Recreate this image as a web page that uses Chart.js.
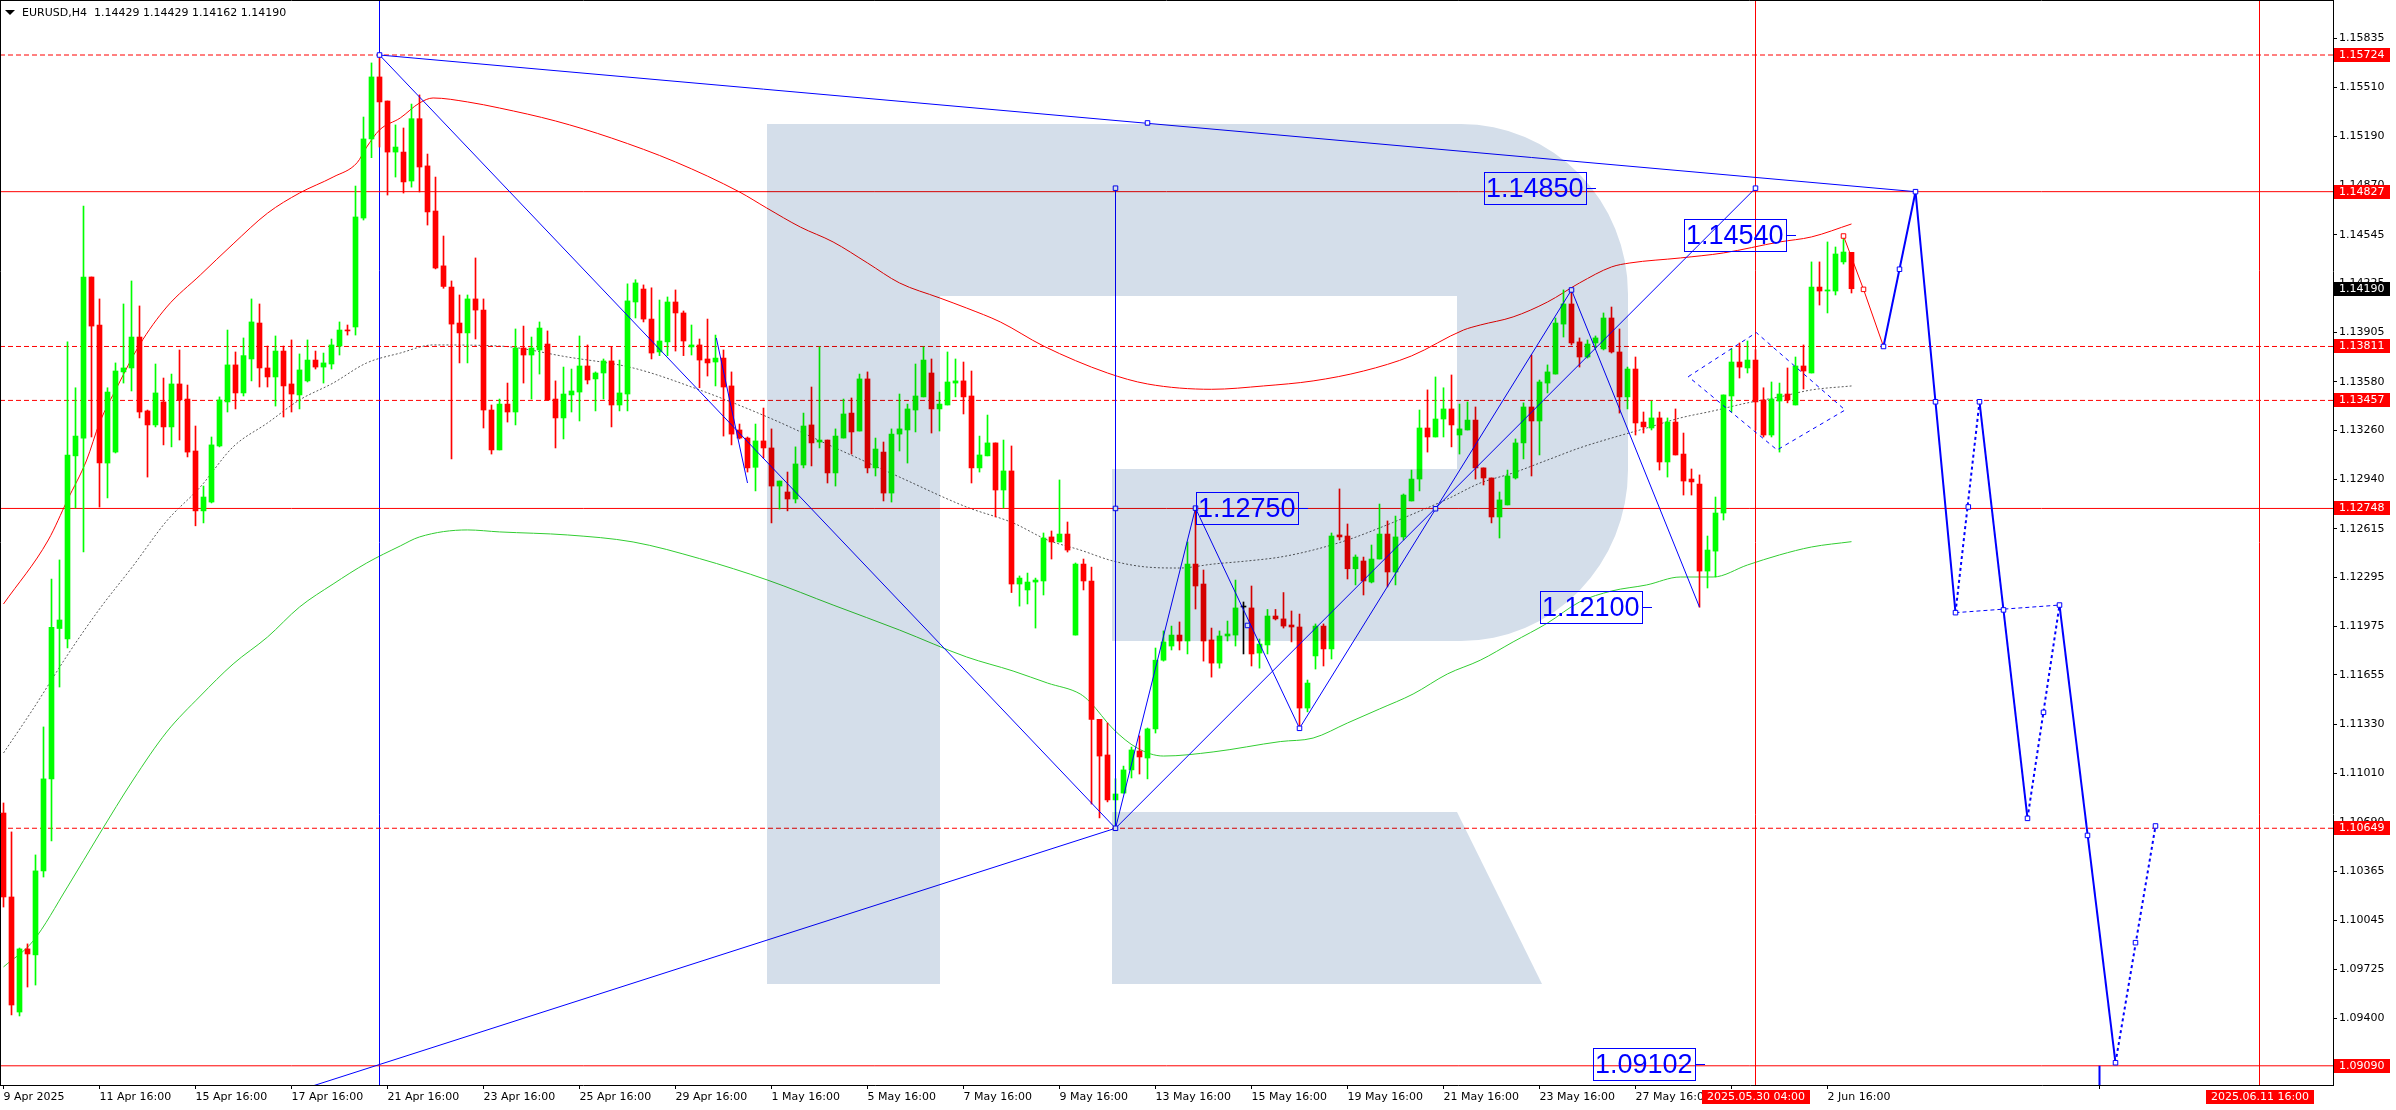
<!DOCTYPE html>
<html><head><meta charset="utf-8">
<script src="https://cdn.jsdelivr.net/npm/chart.js@4.4.1/dist/chart.umd.min.js"></script>
<style>html,body{margin:0;padding:0;background:#fff;overflow:hidden}canvas{display:block}</style>
</head><body>
<canvas id="c" width="2396" height="1110" style="width:2396px;height:1110px"></canvas>
<script>
// ---------------- DATA ----------------
const chartTitle = 'EURUSD,H4  1.14429 1.14429 1.14162 1.14190';

const openP = [
1.10749,1.10198,1.09443,1.09857,1.09818,1.10369,1.10973,1.11960,1.11891,1.13093,
1.13210,1.14267,1.13952,1.13046,1.13118,1.13644,1.13670,1.13873,1.13388,1.13296,
1.13447,1.13283,1.13565,1.13466,1.13125,1.12732,1.12790,1.13158,1.13447,1.13690,
1.13506,1.13729,1.13965,1.13670,1.13611,1.13781,1.13565,1.13493,1.13585,1.13722,
1.13676,1.13696,1.13814,1.13919,1.13939,1.14654,1.15173,1.15580,1.15422,1.15087,
1.15087,1.14897,1.15306,1.14996,1.14700,1.14340,1.14201,1.13965,1.13900,1.14123,
1.14050,1.13394,1.13132,1.13433,1.13381,1.13801,1.13755,1.13788,1.13827,1.13466,
1.13342,1.13493,1.13512,1.13683,1.13598,1.13637,1.13716,1.13427,1.13499,1.14103,
1.14188,1.13991,1.13775,1.13841,1.14103,1.14031,1.13808,1.13821,1.13729,1.13709,
1.13735,1.13552,1.13263,1.13210,1.13018,1.13191,1.13145,1.12895,1.12856,1.12810,
1.13033,1.13296,1.13184,1.13197,1.12981,1.13210,1.13374,1.13256,1.13598,1.13014,
1.13118,1.12849,1.13236,1.13263,1.13394,1.13480,1.13637,1.13401,1.13427,1.13571,
1.13585,1.13486,1.13014,1.13093,1.13178,1.12869,1.12994,1.12252,1.12213,1.12265,
1.12272,1.12561,1.12528,1.12580,1.11917,1.12383,1.12272,1.11364,1.11130,1.10835,
1.10880,1.11032,1.11156,1.11110,1.11301,1.11752,1.11845,1.11917,1.11878,1.12383,
1.12252,1.11885,1.11733,1.11911,1.11917,1.12101,1.12095,1.11799,1.11852,1.12042,
1.12023,1.11983,1.11970,1.11438,1.11780,1.11976,1.11826,1.12574,1.12567,1.12352,
1.12403,1.12265,1.12416,1.12580,1.12331,1.12561,1.12797,1.12941,1.13276,1.13217,
1.13335,1.13401,1.13230,1.13263,1.13328,1.13014,1.12948,1.12692,1.12771,1.12948,
1.13178,1.13414,1.13322,1.13571,1.13630,1.13958,1.14090,1.13841,1.13742,1.13834,
1.13795,1.13998,1.13775,1.13480,1.13663,1.13315,1.13276,1.13342,1.13053,1.13315,
1.13105,1.12941,1.12908,1.12337,1.12468,1.12718,1.13486,1.13709,1.13670,1.13722,
1.13460,1.13230,1.13453,1.13499,1.13427,1.13683,1.13637,1.14201,1.14175,1.14175,
1.14366,1.14429];

const highP = [
1.10815,1.10625,1.09863,1.09890,1.10474,1.11314,1.12285,1.12410,1.13841,1.13540,
1.14733,1.14267,1.14123,1.13540,1.13703,1.14090,1.14241,1.14077,1.13394,1.13696,
1.13604,1.13630,1.13788,1.13558,1.13289,1.12895,1.13217,1.13480,1.13919,1.13775,
1.13867,1.14123,1.14090,1.13814,1.13880,1.13814,1.13854,1.13762,1.13854,1.13781,
1.13768,1.13860,1.13972,1.13952,1.14864,1.15317,1.15672,1.15724,1.15422,1.15265,
1.15245,1.15402,1.15462,1.15074,1.14923,1.14536,1.14241,1.14149,1.14149,1.14392,
1.14123,1.13427,1.13466,1.13571,1.13926,1.13945,1.13873,1.13972,1.13913,1.13585,
1.13676,1.13663,1.13880,1.13821,1.13644,1.13729,1.13808,1.13722,1.14222,1.14249,
1.14215,1.14196,1.14116,1.14136,1.14182,1.14044,1.13952,1.13860,1.13991,1.13886,
1.13788,1.13644,1.13302,1.13217,1.13302,1.13407,1.13270,1.12928,1.12987,1.13152,
1.13374,1.13545,1.13808,1.13197,1.13270,1.13466,1.13473,1.13630,1.13644,1.13210,
1.13184,1.13270,1.13499,1.13433,1.13696,1.13808,1.13729,1.13512,1.13775,1.13729,
1.13709,1.13650,1.13223,1.13361,1.13178,1.13197,1.13158,1.12305,1.12324,1.12291,
1.12587,1.12600,1.12935,1.12659,1.12390,1.12416,1.12363,1.11364,1.11340,1.10974,
1.11057,1.11182,1.11255,1.11307,1.11832,1.11944,1.11976,1.12003,1.12528,1.12750,
1.12344,1.11963,1.11944,1.12009,1.12278,1.12134,1.12239,1.11891,1.12085,1.12085,
1.12196,1.12075,1.12055,1.11622,1.11990,1.11990,1.12587,1.12876,1.12646,1.12443,
1.12429,1.12508,1.12777,1.12666,1.12698,1.12843,1.13000,1.13394,1.13526,1.13611,
1.13540,1.13624,1.13433,1.13447,1.13414,1.13014,1.12948,1.12856,1.13000,1.13204,
1.13441,1.13755,1.13591,1.13690,1.13998,1.14182,1.14182,1.13867,1.13854,1.13880,
1.14031,1.14070,1.13926,1.13676,1.13742,1.13381,1.13453,1.13381,1.13342,1.13401,
1.13243,1.13007,1.12968,1.12567,1.12823,1.13493,1.13795,1.13834,1.13847,1.13790,
1.13540,1.13578,1.13571,1.13670,1.13742,1.13821,1.14366,1.14366,1.14497,1.14464,
1.14536,1.14429];

const lowP = [
1.10132,1.09424,1.09417,1.09607,1.09620,1.10329,1.10566,1.11576,1.11832,1.12751,
1.12462,1.13217,1.12757,1.12817,1.13112,1.13571,1.13519,1.13342,1.12954,1.13283,
1.13165,1.13152,1.13197,1.13086,1.12634,1.12653,1.12784,1.13152,1.13381,1.13401,
1.13486,1.13585,1.13545,1.13545,1.13420,1.13348,1.13381,1.13401,1.13578,1.13663,
1.13571,1.13663,1.13755,1.13886,1.13886,1.14641,1.15050,1.15120,1.14805,1.14923,
1.14818,1.14857,1.14825,1.14608,1.14320,1.14193,1.13073,1.13703,1.13703,1.13860,
1.13276,1.13105,1.13132,1.13315,1.13296,1.13571,1.13466,1.13630,1.13460,1.13145,
1.13204,1.13381,1.13322,1.13565,1.13388,1.13466,1.13283,1.13388,1.13388,1.13998,
1.13972,1.13729,1.13751,1.13751,1.13781,1.13751,1.13755,1.13540,1.13617,1.13552,
1.13223,1.13165,1.13204,1.12987,1.12863,1.13079,1.12653,1.12744,1.12732,1.12784,
1.13014,1.13027,1.13145,1.12915,1.12895,1.13210,1.13105,1.13256,1.12981,1.12961,
1.12797,1.12790,1.13125,1.13046,1.13250,1.13480,1.13243,1.13256,1.13427,1.13480,
1.13368,1.12915,1.12987,1.13093,1.12692,1.12751,1.12196,1.12107,1.12121,1.11963,
1.12180,1.12416,1.12528,1.12462,1.11917,1.12213,1.10808,1.10717,1.10822,1.10649,
1.10880,1.10979,1.11005,1.10973,1.11274,1.11746,1.11819,1.11819,1.11793,1.12088,
1.11746,1.11641,1.11700,1.11878,1.11845,1.11793,1.11714,1.11700,1.11793,1.12016,
1.11963,1.11872,1.11305,1.11413,1.11694,1.11714,1.11760,1.12541,1.12285,1.12246,
1.12180,1.12259,1.12416,1.12233,1.12246,1.12541,1.12797,1.12863,1.13118,1.13217,
1.13217,1.13152,1.13105,1.13263,1.12941,1.12902,1.12653,1.12554,1.12771,1.12941,
1.13073,1.12961,1.13099,1.13506,1.13630,1.13873,1.13821,1.13676,1.13735,1.13801,
1.13788,1.13768,1.13374,1.13401,1.13230,1.13243,1.13263,1.13000,1.12954,1.13099,
1.12836,1.12836,1.12100,1.12226,1.12298,1.12672,1.13381,1.13604,1.13637,1.13263,
1.13217,1.13217,1.13118,1.13441,1.13427,1.13532,1.13637,1.14083,1.14031,1.14149,
1.14352,1.14162];

const closeP = [
1.10198,1.09489,1.09857,1.09824,1.10369,1.10973,1.11967,1.12016,1.13099,1.13223,
1.14267,1.13945,1.13046,1.13512,1.13650,1.13670,1.13873,1.13381,1.13296,1.13506,
1.13283,1.13565,1.13460,1.13118,1.12732,1.12823,1.13165,1.13460,1.13690,1.13506,
1.13751,1.13972,1.13670,1.13611,1.13781,1.13552,1.13499,1.13657,1.13722,1.13676,
1.13703,1.13821,1.13919,1.13913,1.14661,1.15173,1.15580,1.15416,1.15087,1.15120,
1.14891,1.15306,1.14989,1.14694,1.14326,1.14205,1.13958,1.13900,1.14123,1.14050,
1.13394,1.13132,1.13433,1.13381,1.13801,1.13755,1.13801,1.13932,1.13460,1.13342,
1.13499,1.13519,1.13683,1.13591,1.13637,1.13716,1.13427,1.13506,1.14110,1.14228,
1.13991,1.13768,1.13847,1.14103,1.14031,1.13847,1.13821,1.13722,1.13703,1.13735,
1.13545,1.13236,1.13210,1.13014,1.13191,1.13145,1.12895,1.12928,1.12810,1.13040,
1.13289,1.13178,1.13197,1.12981,1.13223,1.13368,1.13250,1.13598,1.13014,1.13138,
1.12849,1.13236,1.13270,1.13401,1.13486,1.13722,1.13401,1.13433,1.13578,1.13585,
1.13480,1.13014,1.13099,1.13178,1.12869,1.12994,1.12252,1.12291,1.12265,1.12278,
1.12554,1.12528,1.12580,1.12475,1.12383,1.12272,1.11364,1.11123,1.10835,1.10874,
1.11032,1.11163,1.11117,1.11301,1.11752,1.11872,1.11917,1.11878,1.12383,1.12239,
1.11878,1.11733,1.11911,1.11924,1.12095,1.12101,1.11793,1.11858,1.12042,1.12023,
1.11976,1.11970,1.11438,1.11602,1.11976,1.11826,1.12567,1.12561,1.12352,1.12429,
1.12272,1.12416,1.12580,1.12331,1.12561,1.12836,1.12941,1.13276,1.13217,1.13335,
1.13401,1.13296,1.13270,1.13328,1.13014,1.12948,1.12692,1.12804,1.12961,1.13178,
1.13414,1.13322,1.13578,1.13644,1.13965,1.14090,1.13834,1.13742,1.13827,1.13867,
1.13998,1.13775,1.13480,1.13663,1.13309,1.13283,1.13342,1.13053,1.13315,1.13099,
1.12928,1.12922,1.12337,1.12475,1.12718,1.13493,1.13709,1.13676,1.13722,1.13447,
1.13230,1.13466,1.13499,1.13460,1.13683,1.13650,1.14201,1.14175,1.14182,1.14418,
1.14431,1.14190];

// moving averages (bar index, price)
const maRedIdx = [0,5.6,8,10.4,12,14.2,17,20.4,24.6,28.7,33,37,41.2,44.2,45.4,47,49.6,52,53.7,58,62,69,76,84,92,95.4,99.6,103.7,108,112,117,120.4,124.6,130,138,143,151,157.5,163.7,170,176,182.5,184.6,188.7,193,197,201,203.3,209.6,215,222,226,231];
const maRedVal = [1.12121,1.12541,1.12804,1.13066,1.13309,1.13545,1.13821,1.14070,1.14280,1.14484,1.14686,1.14818,1.14923,1.15017,1.15120,1.15232,1.15311,1.15409,1.15442,1.15416,1.15376,1.15291,1.15179,1.15022,1.14825,1.14720,1.14595,1.14497,1.14359,1.14228,1.14130,1.14063,1.13972,1.13814,1.13637,1.13565,1.13530,1.13552,1.13585,1.13650,1.13749,1.13919,1.13952,1.14005,1.14103,1.14228,1.14333,1.14359,1.14392,1.14425,1.14497,1.14530,1.14615];
const maGrayIdx = [0,3.7,8,12,16.2,20.4,24.6,28.7,33,37,41.2,45.4,49.6,53.7,62,70.5,78.7,87,95.5,103.7,112,120.4,126.2,130.5,134.6,138.7,143,147,151.2,155.4,159.6,163.7,168,172,176.2,180.5,184.6,188.7,193,197,201,205.4,209.6,213.7,218,222,226,231];
const maGrayVal = [1.11143,1.11432,1.11786,1.12088,1.12371,1.12666,1.12889,1.13152,1.13309,1.13460,1.13571,1.13703,1.13768,1.13821,1.13814,1.13742,1.13670,1.13526,1.13348,1.13152,1.12954,1.12757,1.12653,1.12541,1.12475,1.12403,1.12363,1.12357,1.12383,1.12403,1.12429,1.12475,1.12541,1.12620,1.12712,1.12810,1.12915,1.12981,1.13066,1.13145,1.13210,1.13276,1.13342,1.13388,1.13441,1.13480,1.13526,1.13552];
const maGreenIdx = [0,3.7,8,12,16.2,20.4,24.6,28.7,33,37,41.2,45.4,49.6,52,58,62,70.5,78.7,87,95.5,103.7,112,120.4,126.2,130.5,134.6,135.8,138.7,141.7,145,151.2,159.6,163.7,168,172,176.2,180.5,184.6,188.7,193,197,201,205.4,209.6,213.7,218,222,226,231];
const maGreenVal = [1.09739,1.09909,1.10264,1.10612,1.10966,1.11281,1.11517,1.11727,1.11904,1.12101,1.12252,1.12390,1.12502,1.12561,1.12607,1.12594,1.12574,1.12528,1.12419,1.12278,1.12114,1.11950,1.11773,1.11681,1.11602,1.11530,1.11478,1.11301,1.11176,1.11123,1.11150,1.11218,1.11241,1.11340,1.11432,1.11530,1.11662,1.11752,1.11872,1.11996,1.12134,1.12206,1.12246,1.12298,1.12298,1.12377,1.12443,1.12495,1.12530];

// horizontal levels
const levelsDashed = [1.15724, 1.13811, 1.13457, 1.10649];
const levelsSolid = [1.14827, 1.12748, 1.09090];
const currentPrice = 1.14190;

// vertical time markers
const timeMarkIdx = [219, 282];
const timeMarkText = ['2025.05.30 04:00', '2025.06.11 16:00'];
const highBarIdx = 47;

// axes
const xTickIdx = [0,12,24,36,48,60,72,84,96,108,120,132,144,156,168,180,192,204,216,228,262];
const xTickText = ['9 Apr 2025','11 Apr 16:00','15 Apr 16:00','17 Apr 16:00','21 Apr 16:00','23 Apr 16:00','25 Apr 16:00','29 Apr 16:00','1 May 16:00','5 May 16:00','7 May 16:00','9 May 16:00','13 May 16:00','15 May 16:00','19 May 16:00','21 May 16:00','23 May 16:00','27 May 16:00','29 May 16:00','2 Jun 16:00',''];
const yTickVals = [1.15835,1.15510,1.15190,1.14870,1.14545,1.14225,1.13905,1.13580,1.13260,1.12940,1.12615,1.12295,1.11975,1.11655,1.11330,1.11010,1.10690,1.10365,1.10045,1.09725,1.09400];

// analysis drawings (bar index, price)
const trendTop = [[47,1.15724],[239,1.14827]];
const trendDown = [[47,1.15724],[139,1.10649]];
const trendBase = [[30,1.08812],[139,1.10649]];
const trendShort = [[89.1,1.13867],[93,1.12915]];
const waveZigzag = [[139,1.10649],[149,1.12750],[162,1.11305],[196,1.14182],[212,1.12100]];
const waveChannel = [[139,1.10649],[219,1.14850]];
const targetLine = [[139,1.10649],[139,1.14850]];
const flagBox = [[210.6,1.13613],[219.1,1.13902],[230.2,1.13394],[221.7,1.13132],[210.6,1.13613]];
const fcRed = [[230,1.14536],[232.5,1.14186],[235,1.13811]];
const fcSolid = [
  [[235,1.13811],[239,1.14827]],
  [[239,1.14827],[244,1.12064]],
  [[247,1.13448],[253,1.10714]],
  [[257,1.12114],[264,1.09110]]];
const fcDotted = [
  [[244,1.12064],[247,1.13448]],
  [[253,1.10714],[257,1.12114]],
  [[264,1.09110],[269,1.10664]]];
const fcNeck = [[244,1.12064],[257,1.12114]];
const blueAnchors = [[47,1.15724],[143,1.15278],[139,1.14850],[139,1.12748],[139,1.10649],[149,1.12750],[155.5,1.11980],[162,1.11305],[179,1.12746],[196,1.14182],[219,1.14850],
  [235,1.13811],[237,1.14318],[239,1.14827],[241.5,1.13448],[244,1.12064],[245.6,1.12758],[247,1.13448],[250,1.12082],[253,1.10714],[255,1.11410],[257,1.12114],[260.5,1.10602],[264,1.09110],[266.5,1.09898],[269,1.10664]];
const redAnchors = [[230,1.14536],[232.5,1.14186]];
const bottomStub = [[262,1.09090],[262,1.0800]];
const priceTags = ['1.14850','1.14540','1.12750','1.12100','1.09102'];
const priceTagIdx = [199, 224, 163, 206, 212.7];

// ---------------- CHART ----------------
const X_MIN = -0.4375, X_MAX = 291.1875;
const Y_MIN = 1.08964, Y_MAX = 1.16085;
const GREEN = '#00ff00', RED = '#ff0000', BLUE = '#0000ff';
const FONT = "'DejaVu Sans'";
Chart.defaults.font.family = FONT;
Chart.defaults.font.size = 11;
Chart.defaults.color = '#000';

const pts = arr => arr.map(([x, y]) => ({x, y}));
const zipXY = (xs, ys) => xs.map((x, i) => ({x, y: ys[i]}));
const bars = openP.map((_, i) => i);
const candleColor = ctx => {
  const i = ctx.dataIndex, o = openP[i], c = closeP[i];
  return c > o ? GREEN : (c < o ? RED : '#000000');
};

function seg(data, color, width, dash, order) {
  return {type: 'line', data, borderColor: color, borderWidth: width, borderDash: dash || [],
    pointRadius: 0, fill: false, tension: 0, order, clip: 0, borderCapStyle: 'butt'};
}

const datasets = [];
// moving averages
datasets.push(Object.assign(seg(zipXY(maRedIdx, maRedVal), RED, 1, null, 50), {cubicInterpolationMode: 'monotone'}));
datasets.push(Object.assign(seg(zipXY(maGrayIdx, maGrayVal), '#5a5a5a', 1, [2, 2], 50), {cubicInterpolationMode: 'monotone'}));
datasets.push(Object.assign(seg(zipXY(maGreenIdx, maGreenVal), '#32cd32', 1, null, 50), {cubicInterpolationMode: 'monotone'}));
// levels
levelsDashed.forEach(p => datasets.push(seg([{x: X_MIN, y: p}, {x: X_MAX, y: p}], RED, 1, [5, 3], 40)));
levelsSolid.forEach(p => datasets.push(seg([{x: X_MIN, y: p}, {x: X_MAX, y: p}], RED, 1, null, 40)));
timeMarkIdx.forEach(j => datasets.push(seg([{x: j, y: Y_MIN - 0.01}, {x: j, y: Y_MAX + 0.01}], RED, 1, null, 40)));
datasets.push(seg([{x: highBarIdx, y: Y_MIN - 0.01}, {x: highBarIdx, y: Y_MAX + 0.01}], BLUE, 1, null, 40));
// candles
datasets.push({type: 'bar', data: bars.map(i => ({x: i, y: [lowP[i], highP[i]]})), backgroundColor: candleColor,
  borderWidth: 0, barThickness: 1, grouped: false, order: 30});
datasets.push({type: 'bar', data: bars.map(i => ({x: i, y: [openP[i], closeP[i]]})), backgroundColor: candleColor,
  borderWidth: 0, barThickness: 5, minBarLength: 1, grouped: false, order: 29});
// analysis objects
[trendTop, trendDown, trendBase, trendShort, waveZigzag, waveChannel, targetLine].forEach(a => datasets.push(seg(pts(a), BLUE, 1, null, 10)));
datasets.push(seg(pts(flagBox), BLUE, 1, [4, 4], 10));
datasets.push(seg(pts(bottomStub), BLUE, 2, null, 10));
datasets.push(seg(pts(fcRed), RED, 1, null, 9));
fcSolid.forEach(a => datasets.push(seg(pts(a), BLUE, 2, null, 9)));
fcDotted.forEach(a => datasets.push(seg(pts(a), BLUE, 2, [3, 3], 9)));
datasets.push(seg(pts(fcNeck), BLUE, 1, [4, 3], 9));
datasets.push({type: 'line', data: pts(blueAnchors), showLine: false, pointStyle: 'rect', pointRadius: 3.2,
  pointBackgroundColor: '#fff', pointBorderColor: BLUE, pointBorderWidth: 1, order: 1});
datasets.push({type: 'line', data: pts(redAnchors), showLine: false, pointStyle: 'rect', pointRadius: 3.2,
  pointBackgroundColor: '#fff', pointBorderColor: RED, pointBorderWidth: 1, order: 1});

// watermark logo (decoration, multiplied over the plot)
const watermark = {
  id: 'watermark',
  afterDatasetsDraw(chart) {
    const {ctx, chartArea: a} = chart;
    ctx.save();
    ctx.beginPath(); ctx.rect(a.left, a.top, a.right - a.left, a.bottom - a.top); ctx.clip();
    ctx.globalCompositeOperation = 'multiply';
    ctx.fillStyle = 'rgb(212,222,234)';
    ctx.fillRect(767, 124, 173, 860);
    ctx.beginPath();
    ctx.moveTo(940, 124); ctx.lineTo(1461, 124);
    ctx.ellipse(1461, 294, 167, 170, 0, -Math.PI / 2, 0);
    ctx.lineTo(1628, 470);
    ctx.ellipse(1461, 470, 167, 171, 0, 0, Math.PI / 2);
    ctx.lineTo(1112, 641); ctx.lineTo(1112, 469); ctx.lineTo(1457, 469); ctx.lineTo(1457, 296); ctx.lineTo(940, 296);
    ctx.closePath(); ctx.fill();
    ctx.beginPath();
    ctx.moveTo(1112, 812); ctx.lineTo(1457, 812); ctx.lineTo(1542, 984); ctx.lineTo(1112, 984);
    ctx.closePath(); ctx.fill();
    ctx.restore();
  }
};

const overlay = {
  id: 'overlay',
  afterDraw(chart) {
    const {ctx, chartArea: a, scales: {x: xs, y: ys}} = chart;
    ctx.save();
    // frame
    ctx.strokeStyle = '#000'; ctx.lineWidth = 1;
    ctx.beginPath(); ctx.moveTo(0, 0.5); ctx.lineTo(a.right, 0.5); ctx.moveTo(0.5, 0); ctx.lineTo(0.5, a.bottom); ctx.stroke();
    // title
    ctx.fillStyle = '#000';
    ctx.beginPath(); ctx.moveTo(5, 10); ctx.lineTo(15, 10); ctx.lineTo(10, 15); ctx.closePath(); ctx.fill();
    ctx.font = '11px ' + FONT; ctx.textBaseline = 'alphabetic'; ctx.textAlign = 'left';
    ctx.fillText(chartTitle, 22, 16);
    // price tags
    ctx.font = '27px "Liberation Sans"';
    priceTags.forEach((t, i) => {
      const px = Math.round(xs.getPixelForValue(priceTagIdx[i]));
      const py = Math.round(ys.getPixelForValue(parseFloat(t)));
      const w = Math.round(ctx.measureText(t).width + 4), h = 32;
      const bx = px - 10 - w, by = py - 16;
      ctx.strokeStyle = BLUE; ctx.lineWidth = 1;
      ctx.strokeRect(bx + 0.5, by + 0.5, w, h);
      ctx.beginPath(); ctx.moveTo(bx + w, py + 0.5); ctx.lineTo(px, py + 0.5); ctx.stroke();
      ctx.fillStyle = BLUE; ctx.textBaseline = 'middle';
      ctx.fillText(t, bx + 2, py + 2);
    });
    // right axis price boxes
    ctx.font = '11px ' + FONT; ctx.textBaseline = 'middle';
    const tags = levelsDashed.concat(levelsSolid).map(p => [p, RED]).concat([[currentPrice, '#000']]);
    tags.forEach(([p, col]) => {
      const y = Math.round(ys.getPixelForValue(p));
      ctx.fillStyle = col; ctx.fillRect(a.right + 1, y - 7, 56, 14);
      ctx.fillStyle = '#fff'; ctx.fillText(p.toFixed(5), a.right + 6, y + 0.5);
    });
    // bottom time boxes
    ctx.textAlign = 'center';
    timeMarkIdx.forEach((j, i) => {
      const x = Math.round(xs.getPixelForValue(j));
      ctx.fillStyle = RED; ctx.fillRect(x - 54, a.bottom + 5, 108, 14);
      ctx.fillStyle = '#fff'; ctx.fillText(timeMarkText[i], x, a.bottom + 12.5);
    });
    ctx.restore();
  }
};

new Chart(document.getElementById('c'), {
  type: 'bar',
  data: {datasets},
  options: {
    responsive: false, maintainAspectRatio: false, animation: false, devicePixelRatio: 1,
    layout: {padding: 0, autoPadding: false},
    plugins: {legend: {display: false}, tooltip: {enabled: false}, title: {display: false}},
    events: [],
    scales: {
      x: {
        type: 'linear', min: X_MIN, max: X_MAX, offset: false,
        afterBuildTicks: s => { s.ticks = xTickIdx.map(v => ({value: v})); },
        afterFit: s => { s.height = 25; s.paddingLeft = 0; s.paddingRight = 0; },
        ticks: {autoSkip: false, maxRotation: 0, minRotation: 0, align: 'start', padding: 2,
          callback: v => { const k = xTickIdx.indexOf(v); return k >= 0 ? xTickText[k] : ''; }},
        grid: {drawOnChartArea: false, drawTicks: true, tickLength: 4, color: '#000', offset: false},
        border: {display: true, color: '#000', width: 1}
      },
      y: {
        type: 'linear', position: 'right', min: Y_MIN, max: Y_MAX,
        afterBuildTicks: s => { s.ticks = yTickVals.map(v => ({value: v})); },
        afterFit: s => { s.width = 63; s.paddingTop = 0; s.paddingBottom = 0; },
        ticks: {autoSkip: false, padding: 2, callback: v => Number(v).toFixed(5)},
        grid: {drawOnChartArea: false, drawTicks: true, tickLength: 4, color: '#000'},
        border: {display: true, color: '#000', width: 1}
      }
    }
  },
  plugins: [watermark, overlay]
});
</script>
</body></html>
